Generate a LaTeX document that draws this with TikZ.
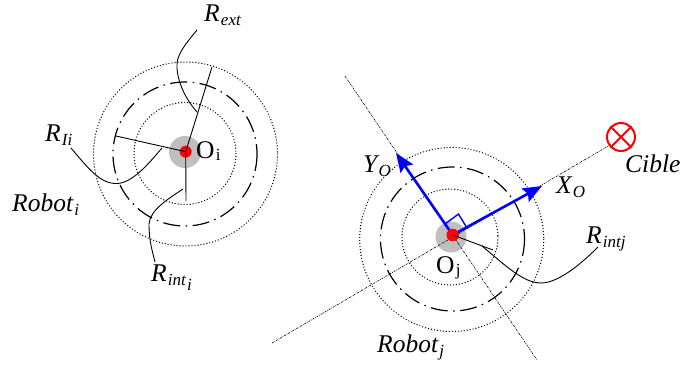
\documentclass[tikz,border=0pt]{standalone}
\usepackage{fontspec}
\setmainfont{Liberation Serif}
\usetikzlibrary{arrows.meta}
\definecolor{disc}{gray}{0.75}
\tikzset{
  lbl/.style={inner sep=0pt,font=\fontsize{25.5}{26}\selectfont\itshape},
  sublbl/.style={inner sep=0pt,font=\fontsize{25.5}{26}\selectfont},
  ringdot/.style={draw,line width=1.4pt,line cap=round,dash pattern=on 0pt off 3pt},
  ringmid/.style={draw,line width=1.2pt,dash pattern=on 17pt off 5.5pt on 1.5pt off 5.5pt},
  axisline/.style={draw,line width=0.6pt,dash pattern=on 2pt off 1pt on 0.7pt off 1pt},
  radius/.style={draw,line width=0.9pt},
  leader/.style={draw,line width=0.9pt},
  bluearrow/.style={draw=blue,line width=2.6pt,-{Stealth[length=19pt,width=15pt,inset=3pt]}},
}
\newcommand{\subt}[2][4]{\hspace{1.2pt}\raisebox{-#1pt}{\fontsize{17}{17}\selectfont #2}}
\begin{document}
\begin{tikzpicture}[x=1pt,y=-1pt]
\useasboundingbox (0,0) rectangle (681,367);
% Robot i
\path[fill=disc] (185,152) circle (16);
\path[ringdot] (185.5,154) circle (92);
\path[ringmid] (185,154) circle (72);
\path[ringdot] (185,153.5) circle (51);
\node[circle,fill=red,minimum size=12pt,inner sep=0pt] (oi) at (185.7,151.7) {};
\coordinate (ext) at (212,67);
\coordinate (ii) at (116,136);
\coordinate (inti) at (186,201);
\draw[radius] (oi.center) -- (ext);
\draw[radius] (oi.center) -- (ii);
\draw[radius] (oi.center) -- (inti);
\node[sublbl,anchor=base west] (Oi) at (196,158) {O\subt[2]{i}};
\node[lbl,anchor=base west] (Rext) at (204,21) {R\subt{ext}};
\node[lbl,anchor=base west] (Rli) at (45,141) {R\subt{Ii}};
\node[lbl,anchor=base west] (Roboti) at (12,211) {Robot\subt{i}};
\node[lbl,anchor=base west] (Rinti) at (151,281) {R\subt[4]{int}\subt[9]{i}};
\coordinate (a1) at (197,30);
\coordinate (a2) at (197,112);
\draw[leader] (a1) .. controls (183,47) and (176,56) .. (177,68) .. controls (178,85) and (188,102) .. (a2);
\coordinate (b1) at (71,148);
\coordinate (b2) at (162,148);
\draw[leader] (b1) .. controls (88,168) and (100,184) .. (117,183.5) .. controls (133,183) and (150,162) .. (b2);
\coordinate (c1) at (183,189);
\coordinate (c2) at (155,262);
\draw[leader] (c1) .. controls (168,199) and (150,210) .. (149,224) .. controls (149,240) and (152,250) .. (c2);
% Robot j
\path[fill=disc] (451,237) circle (15.5);
\path[ringdot] (451.7,239.5) circle (92);
\path[ringmid] (452.5,239) circle (72);
\path[ringdot] (450,237) circle (48);
\coordinate (ax1) at (345,76);
\coordinate (ax2) at (537,360);
\coordinate (ay1) at (272,343);
\coordinate (ay2) at (610,145);
\draw[axisline] (ax1) -- (ax2);
\draw[axisline] (ay1) -- (ay2);
\draw[draw=blue,line width=1.4pt] (445,224) -- (458.5,214) -- (467,228);
\coordinate (xtip) at (542,186);
\coordinate (ytip) at (396,153);
\coordinate (oc) at (452.7,235);
\draw[bluearrow] (oc) -- (xtip);
\draw[bluearrow] (oc) -- (ytip);
\node[circle,fill=red,minimum size=12.5pt,inner sep=0pt] (oj) at (oc) {};
\coordinate (intj) at (493,250);
\draw[radius] (oj.center) -- (intj);
\coordinate (d1) at (482,246);
\coordinate (d2) at (598,247);
\draw[leader] (d1) .. controls (505,265) and (523,283) .. (541,283) .. controls (560,283) and (585,260) .. (d2);
\node[sublbl,anchor=base west] (Oj) at (436,273) {O\subt[2]{j}};
\node[lbl,anchor=base west] (Yo) at (363,172) {Y\subt{O}};
\node[lbl,anchor=base west] (Xo) at (556,193) {X\subt{O}};
\node[lbl,anchor=base west] (Cible) at (625,172) {Cible};
\node[lbl,anchor=base west] (Rintj) at (586,243) {R\subt{intj}};
\node[lbl,anchor=base west] (Robotj) at (377,352) {Robot\subt{j}};
% Cible
\node[circle,draw=red,line width=2pt,minimum size=28pt,inner sep=0pt] (target) at (621,137) {};
\draw[red,line width=2pt] (target.45) -- (target.225);
\draw[red,line width=2pt] (target.135) -- (target.315);
\end{tikzpicture}
\end{document}
